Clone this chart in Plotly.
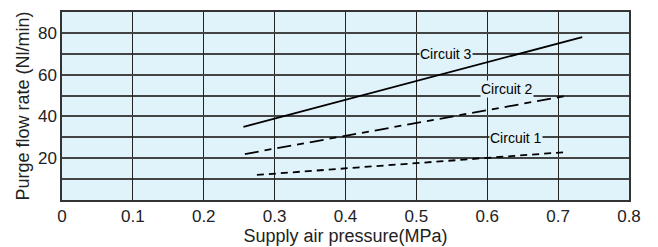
import plotly.graph_objects as go

# Data
c3_x = [0.256, 0.734]
c3_y = [35, 78]
c2_x = [0.258, 0.714]
c2_y = [22, 50]
c1_x = [0.275, 0.713]
c1_y = [12, 23]

labels = ["Circuit 3", "Circuit 2", "Circuit 1"]
label_x = [0.542, 0.628, 0.641]
label_y = [70, 53, 29.6]

x_ticks = [0, 0.1, 0.2, 0.3, 0.4, 0.5, 0.6, 0.7, 0.8]
x_tick_text = ["0", "0.1", "0.2", "0.3", "0.4", "0.5", "0.6", "0.7", "0.8"]
y_ticks = [20, 40, 60, 80]

BG = "#e0f2fa"
FONT = "Liberation Sans"
fig = go.Figure()
fig.add_trace(go.Scatter(x=c3_x, y=c3_y, mode="lines",
                         line=dict(color="black", width=1.8), showlegend=False))
fig.add_trace(go.Scatter(x=c2_x, y=c2_y, mode="lines",
                         line=dict(color="black", width=1.8, dash="14px,6px,7px,6px"), showlegend=False))
fig.add_trace(go.Scatter(x=c1_x, y=c1_y, mode="lines",
                         line=dict(color="black", width=1.8, dash="7px,5px"), showlegend=False))

for lx, ly, lt in zip(label_x, label_y, labels):
    fig.add_annotation(x=lx, y=ly, text=lt, showarrow=False,
                       font=dict(family=FONT, size=14, color="black"),
                       bgcolor=BG, borderpad=0)

fig.update_xaxes(range=[0, 0.8], tickvals=x_ticks, ticktext=x_tick_text,
                 showgrid=True, gridcolor="#222222", gridwidth=1.3,
                 showline=True, linecolor="#333333", linewidth=1.5, mirror=True,
                 zeroline=False, ticks="",
                 tickfont=dict(family=FONT, size=17, color="#222"),
                 title=dict(text="Supply air pressure(MPa)", standoff=2,
                            font=dict(family=FONT, size=18, color="#222")))
fig.update_yaxes(range=[0, 90], tickvals=y_ticks,
                 showgrid=True, gridcolor="#444444", gridwidth=1.5,
                 minor=dict(dtick=10, tick0=0, showgrid=True, gridcolor="#444444", gridwidth=1.5),
                 showline=True, linecolor="#333333", linewidth=1.5, mirror=True,
                 zeroline=False, ticks="",
                 tickfont=dict(family=FONT, size=17, color="#222"),
                 title=dict(text="Purge flow rate (Nl/min)", standoff=4,
                            font=dict(family=FONT, size=18, color="#222")))

fig.update_layout(width=650, height=239, plot_bgcolor=BG, paper_bgcolor="white",
                  margin=dict(l=54, r=29, t=2, b=47))
fig.write_html("out.html")
